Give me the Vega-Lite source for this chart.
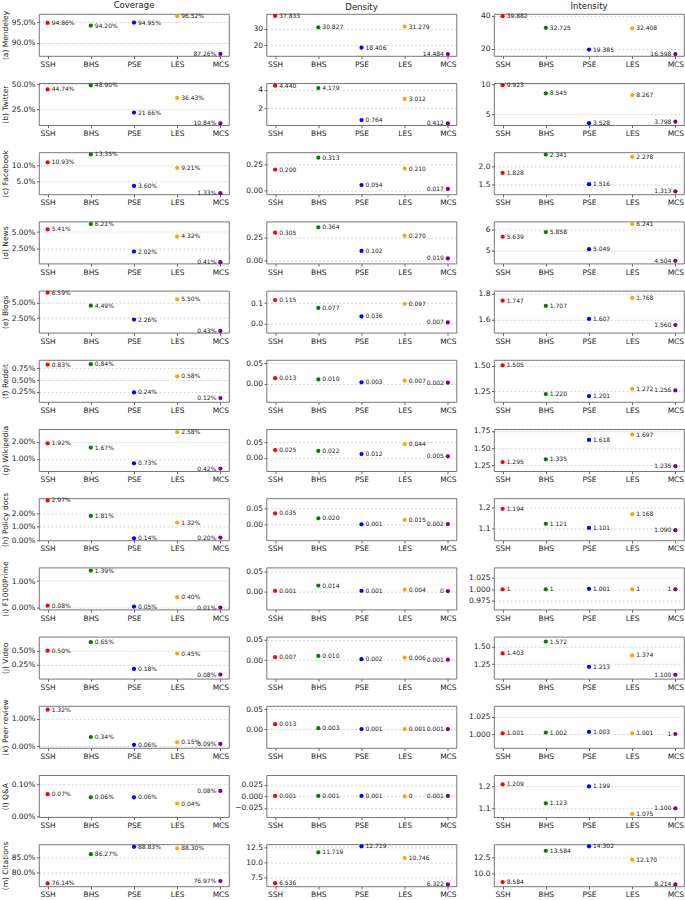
{
"$schema":"https://vega.github.io/schema/vega-lite/v6.json",
"background":"white",
"padding":{"left":0,"top":0,"right":0,"bottom":0},
"datasets":{
"aC":[{"g":"SSH","v":0.9486},{"g":"BHS","v":0.942},{"g":"PSE","v":0.9495},{"g":"LES","v":0.9652},{"g":"MCS","v":0.8726}],
"aD":[{"g":"SSH","v":37.833},{"g":"BHS","v":30.827},{"g":"PSE","v":18.406},{"g":"LES","v":31.279},{"g":"MCS","v":14.484}],
"aI":[{"g":"SSH","v":39.882},{"g":"BHS","v":32.725},{"g":"PSE","v":19.385},{"g":"LES","v":32.408},{"g":"MCS","v":16.598}],
"bC":[{"g":"SSH","v":0.4474},{"g":"BHS","v":0.489},{"g":"PSE","v":0.2166},{"g":"LES","v":0.3643},{"g":"MCS","v":0.1084}],
"bD":[{"g":"SSH","v":4.44},{"g":"BHS","v":4.179},{"g":"PSE","v":0.764},{"g":"LES","v":3.012},{"g":"MCS","v":0.412}],
"bI":[{"g":"SSH","v":9.923},{"g":"BHS","v":8.545},{"g":"PSE","v":3.528},{"g":"LES","v":8.267},{"g":"MCS","v":3.798}],
"cC":[{"g":"SSH","v":0.1093},{"g":"BHS","v":0.1335},{"g":"PSE","v":0.036},{"g":"LES","v":0.0921},{"g":"MCS","v":0.0133}],
"cD":[{"g":"SSH","v":0.2},{"g":"BHS","v":0.313},{"g":"PSE","v":0.054},{"g":"LES","v":0.21},{"g":"MCS","v":0.017}],
"cI":[{"g":"SSH","v":1.828},{"g":"BHS","v":2.341},{"g":"PSE","v":1.516},{"g":"LES","v":2.278},{"g":"MCS","v":1.313}],
"dC":[{"g":"SSH","v":0.0541},{"g":"BHS","v":0.0621},{"g":"PSE","v":0.0202},{"g":"LES","v":0.0432},{"g":"MCS","v":0.0041}],
"dD":[{"g":"SSH","v":0.305},{"g":"BHS","v":0.364},{"g":"PSE","v":0.102},{"g":"LES","v":0.27},{"g":"MCS","v":0.019}],
"dI":[{"g":"SSH","v":5.639},{"g":"BHS","v":5.858},{"g":"PSE","v":5.049},{"g":"LES","v":6.241},{"g":"MCS","v":4.504}],
"eC":[{"g":"SSH","v":0.0659},{"g":"BHS","v":0.0449},{"g":"PSE","v":0.0226},{"g":"LES","v":0.055},{"g":"MCS","v":0.0043}],
"eD":[{"g":"SSH","v":0.115},{"g":"BHS","v":0.077},{"g":"PSE","v":0.036},{"g":"LES","v":0.097},{"g":"MCS","v":0.007}],
"eI":[{"g":"SSH","v":1.747},{"g":"BHS","v":1.707},{"g":"PSE","v":1.607},{"g":"LES","v":1.768},{"g":"MCS","v":1.56}],
"fC":[{"g":"SSH","v":0.0083},{"g":"BHS","v":0.0084},{"g":"PSE","v":0.0024},{"g":"LES","v":0.0058},{"g":"MCS","v":0.0012}],
"fD":[{"g":"SSH","v":0.013},{"g":"BHS","v":0.01},{"g":"PSE","v":0.003},{"g":"LES","v":0.007},{"g":"MCS","v":0.002}],
"fI":[{"g":"SSH","v":1.505},{"g":"BHS","v":1.22},{"g":"PSE","v":1.201},{"g":"LES","v":1.272},{"g":"MCS","v":1.256}],
"gC":[{"g":"SSH","v":0.0192},{"g":"BHS","v":0.0167},{"g":"PSE","v":0.0073},{"g":"LES","v":0.0258},{"g":"MCS","v":0.0042}],
"gD":[{"g":"SSH","v":0.025},{"g":"BHS","v":0.022},{"g":"PSE","v":0.012},{"g":"LES","v":0.044},{"g":"MCS","v":0.005}],
"gI":[{"g":"SSH","v":1.295},{"g":"BHS","v":1.335},{"g":"PSE","v":1.618},{"g":"LES","v":1.697},{"g":"MCS","v":1.235}],
"hC":[{"g":"SSH","v":0.0297},{"g":"BHS","v":0.0181},{"g":"PSE","v":0.0014},{"g":"LES","v":0.0132},{"g":"MCS","v":0.002}],
"hD":[{"g":"SSH","v":0.035},{"g":"BHS","v":0.02},{"g":"PSE","v":0.001},{"g":"LES","v":0.015},{"g":"MCS","v":0.002}],
"hI":[{"g":"SSH","v":1.194},{"g":"BHS","v":1.121},{"g":"PSE","v":1.101},{"g":"LES","v":1.168},{"g":"MCS","v":1.09}],
"iC":[{"g":"SSH","v":0.0008},{"g":"BHS","v":0.0139},{"g":"PSE","v":0.0005},{"g":"LES","v":0.004},{"g":"MCS","v":0.0001}],
"iD":[{"g":"SSH","v":0.001},{"g":"BHS","v":0.014},{"g":"PSE","v":0.001},{"g":"LES","v":0.004},{"g":"MCS","v":0}],
"iI":[{"g":"SSH","v":1},{"g":"BHS","v":1},{"g":"PSE","v":1.001},{"g":"LES","v":1},{"g":"MCS","v":1}],
"jC":[{"g":"SSH","v":0.005},{"g":"BHS","v":0.0065},{"g":"PSE","v":0.0018},{"g":"LES","v":0.0045},{"g":"MCS","v":0.0008}],
"jD":[{"g":"SSH","v":0.007},{"g":"BHS","v":0.01},{"g":"PSE","v":0.002},{"g":"LES","v":0.006},{"g":"MCS","v":0.001}],
"jI":[{"g":"SSH","v":1.403},{"g":"BHS","v":1.572},{"g":"PSE","v":1.213},{"g":"LES","v":1.374},{"g":"MCS","v":1.1}],
"kC":[{"g":"SSH","v":0.0132},{"g":"BHS","v":0.0034},{"g":"PSE","v":0.0006},{"g":"LES","v":0.0015},{"g":"MCS","v":0.0009}],
"kD":[{"g":"SSH","v":0.013},{"g":"BHS","v":0.003},{"g":"PSE","v":0.001},{"g":"LES","v":0.001},{"g":"MCS","v":0.001}],
"kI":[{"g":"SSH","v":1.001},{"g":"BHS","v":1.002},{"g":"PSE","v":1.003},{"g":"LES","v":1.001},{"g":"MCS","v":1}],
"lC":[{"g":"SSH","v":0.0007},{"g":"BHS","v":0.0006},{"g":"PSE","v":0.0006},{"g":"LES","v":0.0004},{"g":"MCS","v":0.0008}],
"lD":[{"g":"SSH","v":0.001},{"g":"BHS","v":0.001},{"g":"PSE","v":0.001},{"g":"LES","v":0},{"g":"MCS","v":0.001}],
"lI":[{"g":"SSH","v":1.209},{"g":"BHS","v":1.123},{"g":"PSE","v":1.199},{"g":"LES","v":1.075},{"g":"MCS","v":1.1}],
"mC":[{"g":"SSH","v":0.7614},{"g":"BHS","v":0.8627},{"g":"PSE","v":0.8883},{"g":"LES","v":0.883},{"g":"MCS","v":0.7697}],
"mD":[{"g":"SSH","v":6.536},{"g":"BHS","v":11.719},{"g":"PSE","v":12.719},{"g":"LES","v":10.746},{"g":"MCS","v":6.322}],
"mI":[{"g":"SSH","v":8.584},{"g":"BHS","v":13.584},{"g":"PSE","v":14.302},{"g":"LES","v":12.17},{"g":"MCS","v":8.214}]
},
"columns":3,
"spacing":{"row":27.2,"column":37.5},
"bounds":"flush",
"concat":[
{"data":{"name":"aC"},"width":190,"height":42,"title":"Coverage","encoding":{"x":{"field":"g","sort":null,"title":null},"y":{"field":"v","type":"quantitative","title":"(a) Mendeley","scale":{"domain":[0.8675,0.9705]},"axis":{"values":[0.9,0.95],"format":".1%"}}},"layer":[{"mark":"point","encoding":{"color":{"field":"g","legend":null}}},{"mark":{"type":"text","align":{"expr":"datum.g=='MCS'?'right':'left'"},"dx":{"expr":"datum.g=='MCS'?-4:4"}},"encoding":{"text":{"field":"v","type":"quantitative","format":".2%"}}}]},
{"data":{"name":"aD"},"width":190,"height":42,"title":"Density","encoding":{"x":{"field":"g","sort":null,"title":null},"y":{"field":"v","type":"quantitative","title":null,"scale":{"domain":[13.3,39.0]},"axis":{"values":[20,30],"format":"d"}}},"layer":[{"mark":"point","encoding":{"color":{"field":"g","legend":null}}},{"mark":{"type":"text","align":{"expr":"datum.g=='MCS'?'right':'left'"},"dx":{"expr":"datum.g=='MCS'?-4:4"}},"encoding":{"text":{"field":"v","type":"quantitative","format":".3f"}}}]},
{"data":{"name":"aI"},"width":190,"height":42,"title":"Intensity","encoding":{"x":{"field":"g","sort":null,"title":null},"y":{"field":"v","type":"quantitative","title":null,"scale":{"domain":[15.4,41.2]},"axis":{"values":[20,40],"format":"d"}}},"layer":[{"mark":"point","encoding":{"color":{"field":"g","legend":null}}},{"mark":{"type":"text","align":{"expr":"datum.g=='MCS'?'right':'left'"},"dx":{"expr":"datum.g=='MCS'?-4:4"}},"encoding":{"text":{"field":"v","type":"quantitative","format":".3f"}}}]},

{"data":{"name":"bC"},"width":190,"height":42,"encoding":{"x":{"field":"g","sort":null,"title":null},"y":{"field":"v","type":"quantitative","title":"(b) Twitter","scale":{"domain":[0.09,0.51]},"axis":{"values":[0.25,0.5],"format":".1%"}}},"layer":[{"mark":"point","encoding":{"color":{"field":"g","legend":null}}},{"mark":{"type":"text","align":{"expr":"datum.g=='MCS'?'right':'left'"},"dx":{"expr":"datum.g=='MCS'?-4:4"}},"encoding":{"text":{"field":"v","type":"quantitative","format":".2%"}}}]},
{"data":{"name":"bD"},"width":190,"height":42,"encoding":{"x":{"field":"g","sort":null,"title":null},"y":{"field":"v","type":"quantitative","title":null,"scale":{"domain":[0.21,4.7]},"axis":{"values":[2,4],"format":"d"}}},"layer":[{"mark":"point","encoding":{"color":{"field":"g","legend":null}}},{"mark":{"type":"text","align":{"expr":"datum.g=='MCS'?'right':'left'"},"dx":{"expr":"datum.g=='MCS'?-4:4"}},"encoding":{"text":{"field":"v","type":"quantitative","format":".3f"}}}]},
{"data":{"name":"bI"},"width":190,"height":42,"encoding":{"x":{"field":"g","sort":null,"title":null},"y":{"field":"v","type":"quantitative","title":null,"scale":{"domain":[3.2,10.25]},"axis":{"values":[5,10],"format":"d"}}},"layer":[{"mark":"point","encoding":{"color":{"field":"g","legend":null}}},{"mark":{"type":"text","align":{"expr":"datum.g=='MCS'?'right':'left'"},"dx":{"expr":"datum.g=='MCS'?-4:4"}},"encoding":{"text":{"field":"v","type":"quantitative","format":".3f"}}}]},

{"data":{"name":"cC"},"width":190,"height":42,"encoding":{"x":{"field":"g","sort":null,"title":null},"y":{"field":"v","type":"quantitative","title":"(c) Facebook","scale":{"domain":[0.0096,0.14]},"axis":{"values":[0.05,0.1],"format":".1%"}}},"layer":[{"mark":"point","encoding":{"color":{"field":"g","legend":null}}},{"mark":{"type":"text","align":{"expr":"datum.g=='MCS'?'right':'left'"},"dx":{"expr":"datum.g=='MCS'?-4:4"}},"encoding":{"text":{"field":"v","type":"quantitative","format":".2%"}}}]},
{"data":{"name":"cD"},"width":190,"height":42,"encoding":{"x":{"field":"g","sort":null,"title":null},"y":{"field":"v","type":"quantitative","title":null,"scale":{"domain":[-0.035,0.363]},"axis":{"values":[0,0.25],"format":".2f"}}},"layer":[{"mark":"point","encoding":{"color":{"field":"g","legend":null}}},{"mark":{"type":"text","align":{"expr":"datum.g=='MCS'?'right':'left'"},"dx":{"expr":"datum.g=='MCS'?-4:4"}},"encoding":{"text":{"field":"v","type":"quantitative","format":".3f"}}}]},
{"data":{"name":"cI"},"width":190,"height":42,"encoding":{"x":{"field":"g","sort":null,"title":null},"y":{"field":"v","type":"quantitative","title":null,"scale":{"domain":[1.23,2.4]},"axis":{"values":[1.5,2.0],"format":".1f"}}},"layer":[{"mark":"point","encoding":{"color":{"field":"g","legend":null}}},{"mark":{"type":"text","align":{"expr":"datum.g=='MCS'?'right':'left'"},"dx":{"expr":"datum.g=='MCS'?-4:4"}},"encoding":{"text":{"field":"v","type":"quantitative","format":".3f"}}}]},

{"data":{"name":"dC"},"width":190,"height":42,"encoding":{"x":{"field":"g","sort":null,"title":null},"y":{"field":"v","type":"quantitative","title":"(d) News","scale":{"domain":[0.002,0.0658]},"axis":{"values":[0.025,0.05],"format":".2%"}}},"layer":[{"mark":"point","encoding":{"color":{"field":"g","legend":null}}},{"mark":{"type":"text","align":{"expr":"datum.g=='MCS'?'right':'left'"},"dx":{"expr":"datum.g=='MCS'?-4:4"}},"encoding":{"text":{"field":"v","type":"quantitative","format":".2%"}}}]},
{"data":{"name":"dD"},"width":190,"height":42,"encoding":{"x":{"field":"g","sort":null,"title":null},"y":{"field":"v","type":"quantitative","title":null,"scale":{"domain":[-0.038,0.428]},"axis":{"values":[0,0.25],"format":".2f"}}},"layer":[{"mark":"point","encoding":{"color":{"field":"g","legend":null}}},{"mark":{"type":"text","align":{"expr":"datum.g=='MCS'?'right':'left'"},"dx":{"expr":"datum.g=='MCS'?-4:4"}},"encoding":{"text":{"field":"v","type":"quantitative","format":".3f"}}}]},
{"data":{"name":"dI"},"width":190,"height":42,"encoding":{"x":{"field":"g","sort":null,"title":null},"y":{"field":"v","type":"quantitative","title":null,"scale":{"domain":[4.37,6.355]},"axis":{"values":[5,6],"format":"d"}}},"layer":[{"mark":"point","encoding":{"color":{"field":"g","legend":null}}},{"mark":{"type":"text","align":{"expr":"datum.g=='MCS'?'right':'left'"},"dx":{"expr":"datum.g=='MCS'?-4:4"}},"encoding":{"text":{"field":"v","type":"quantitative","format":".3f"}}}]},

{"data":{"name":"eC"},"width":190,"height":42,"encoding":{"x":{"field":"g","sort":null,"title":null},"y":{"field":"v","type":"quantitative","title":"(e) Blogs","scale":{"domain":[0.0012,0.069]},"axis":{"values":[0.025,0.05],"format":".2%"}}},"layer":[{"mark":"point","encoding":{"color":{"field":"g","legend":null}}},{"mark":{"type":"text","align":{"expr":"datum.g=='MCS'?'right':'left'"},"dx":{"expr":"datum.g=='MCS'?-4:4"}},"encoding":{"text":{"field":"v","type":"quantitative","format":".2%"}}}]},
{"data":{"name":"eD"},"width":190,"height":42,"encoding":{"x":{"field":"g","sort":null,"title":null},"y":{"field":"v","type":"quantitative","title":null,"scale":{"domain":[-0.043,0.16]},"axis":{"values":[0,0.1],"format":".1f"}}},"layer":[{"mark":"point","encoding":{"color":{"field":"g","legend":null}}},{"mark":{"type":"text","align":{"expr":"datum.g=='MCS'?'right':'left'"},"dx":{"expr":"datum.g=='MCS'?-4:4"}},"encoding":{"text":{"field":"v","type":"quantitative","format":".3f"}}}]},
{"data":{"name":"eI"},"width":190,"height":42,"encoding":{"x":{"field":"g","sort":null,"title":null},"y":{"field":"v","type":"quantitative","title":null,"scale":{"domain":[1.5,1.823]},"axis":{"values":[1.6,1.8],"format":".1f"}}},"layer":[{"mark":"point","encoding":{"color":{"field":"g","legend":null}}},{"mark":{"type":"text","align":{"expr":"datum.g=='MCS'?'right':'left'"},"dx":{"expr":"datum.g=='MCS'?-4:4"}},"encoding":{"text":{"field":"v","type":"quantitative","format":".3f"}}}]},

{"data":{"name":"fC"},"width":190,"height":42,"encoding":{"x":{"field":"g","sort":null,"title":null},"y":{"field":"v","type":"quantitative","title":"(f) Reddit","scale":{"domain":[0.00036,0.00929]},"axis":{"values":[0.0025,0.005,0.0075],"format":".2%"}}},"layer":[{"mark":"point","encoding":{"color":{"field":"g","legend":null}}},{"mark":{"type":"text","align":{"expr":"datum.g=='MCS'?'right':'left'"},"dx":{"expr":"datum.g=='MCS'?-4:4"}},"encoding":{"text":{"field":"v","type":"quantitative","format":".2%"}}}]},
{"data":{"name":"fD"},"width":190,"height":42,"encoding":{"x":{"field":"g","sort":null,"title":null},"y":{"field":"v","type":"quantitative","title":null,"scale":{"domain":[-0.045,0.0575]},"axis":{"values":[0,0.05],"format":".2f"}}},"layer":[{"mark":"point","encoding":{"color":{"field":"g","legend":null}}},{"mark":{"type":"text","align":{"expr":"datum.g=='MCS'?'right':'left'"},"dx":{"expr":"datum.g=='MCS'?-4:4"}},"encoding":{"text":{"field":"v","type":"quantitative","format":".3f"}}}]},
{"data":{"name":"fI"},"width":190,"height":42,"encoding":{"x":{"field":"g","sort":null,"title":null},"y":{"field":"v","type":"quantitative","title":null,"scale":{"domain":[1.142,1.557]},"axis":{"values":[1.25,1.5],"format":".2f"}}},"layer":[{"mark":"point","encoding":{"color":{"field":"g","legend":null}}},{"mark":{"type":"text","align":{"expr":"datum.g=='MCS'?'right':'left'"},"dx":{"expr":"datum.g=='MCS'?-4:4"}},"encoding":{"text":{"field":"v","type":"quantitative","format":".3f"}}}]},

{"data":{"name":"gC"},"width":190,"height":42,"encoding":{"x":{"field":"g","sort":null,"title":null},"y":{"field":"v","type":"quantitative","title":"(g) Wikipedia","scale":{"domain":[0.0026,0.0276]},"axis":{"values":[0.01,0.02],"format":".2%"}}},"layer":[{"mark":"point","encoding":{"color":{"field":"g","legend":null}}},{"mark":{"type":"text","align":{"expr":"datum.g=='MCS'?'right':'left'"},"dx":{"expr":"datum.g=='MCS'?-4:4"}},"encoding":{"text":{"field":"v","type":"quantitative","format":".2%"}}}]},
{"data":{"name":"gD"},"width":190,"height":42,"encoding":{"x":{"field":"g","sort":null,"title":null},"y":{"field":"v","type":"quantitative","title":null,"scale":{"domain":[-0.043,0.092]},"axis":{"values":[0,0.05],"format":".2f"}}},"layer":[{"mark":"point","encoding":{"color":{"field":"g","legend":null}}},{"mark":{"type":"text","align":{"expr":"datum.g=='MCS'?'right':'left'"},"dx":{"expr":"datum.g=='MCS'?-4:4"}},"encoding":{"text":{"field":"v","type":"quantitative","format":".3f"}}}]},
{"data":{"name":"gI"},"width":190,"height":42,"encoding":{"x":{"field":"g","sort":null,"title":null},"y":{"field":"v","type":"quantitative","title":null,"scale":{"domain":[1.162,1.775]},"axis":{"values":[1.25,1.5,1.75],"format":".2f"}}},"layer":[{"mark":"point","encoding":{"color":{"field":"g","legend":null}}},{"mark":{"type":"text","align":{"expr":"datum.g=='MCS'?'right':'left'"},"dx":{"expr":"datum.g=='MCS'?-4:4"}},"encoding":{"text":{"field":"v","type":"quantitative","format":".3f"}}}]},

{"data":{"name":"hC"},"width":190,"height":42,"encoding":{"x":{"field":"g","sort":null,"title":null},"y":{"field":"v","type":"quantitative","title":"(h) Policy docs","scale":{"domain":[-0.00015,0.0312]},"axis":{"values":[0,0.01,0.02],"format":".2%"}}},"layer":[{"mark":"point","encoding":{"color":{"field":"g","legend":null}}},{"mark":{"type":"text","align":{"expr":"datum.g=='MCS'?'right':'left'"},"dx":{"expr":"datum.g=='MCS'?-4:4"}},"encoding":{"text":{"field":"v","type":"quantitative","format":".2%"}}}]},
{"data":{"name":"hD"},"width":190,"height":42,"encoding":{"x":{"field":"g","sort":null,"title":null},"y":{"field":"v","type":"quantitative","title":null,"scale":{"domain":[-0.049,0.082]},"axis":{"values":[0,0.05],"format":".2f"}}},"layer":[{"mark":"point","encoding":{"color":{"field":"g","legend":null}}},{"mark":{"type":"text","align":{"expr":"datum.g=='MCS'?'right':'left'"},"dx":{"expr":"datum.g=='MCS'?-4:4"}},"encoding":{"text":{"field":"v","type":"quantitative","format":".3f"}}}]},
{"data":{"name":"hI"},"width":190,"height":42,"encoding":{"x":{"field":"g","sort":null,"title":null},"y":{"field":"v","type":"quantitative","title":null,"scale":{"domain":[1.04,1.245]},"axis":{"values":[1.1,1.2],"format":".1f"}}},"layer":[{"mark":"point","encoding":{"color":{"field":"g","legend":null}}},{"mark":{"type":"text","align":{"expr":"datum.g=='MCS'?'right':'left'"},"dx":{"expr":"datum.g=='MCS'?-4:4"}},"encoding":{"text":{"field":"v","type":"quantitative","format":".3f"}}}]},

{"data":{"name":"iC"},"width":190,"height":42,"encoding":{"x":{"field":"g","sort":null,"title":null},"y":{"field":"v","type":"quantitative","title":"(i) F1000Prime","scale":{"domain":[-0.00064,0.015]},"axis":{"values":[0,0.01],"format":".2%"}}},"layer":[{"mark":"point","encoding":{"color":{"field":"g","legend":null}}},{"mark":{"type":"text","align":{"expr":"datum.g=='MCS'?'right':'left'"},"dx":{"expr":"datum.g=='MCS'?-4:4"}},"encoding":{"text":{"field":"v","type":"quantitative","format":".2%"}}}]},
{"data":{"name":"iD"},"width":190,"height":42,"encoding":{"x":{"field":"g","sort":null,"title":null},"y":{"field":"v","type":"quantitative","title":null,"scale":{"domain":[-0.046,0.059]},"axis":{"values":[0,0.05],"format":".2f"}}},"layer":[{"mark":"point","encoding":{"color":{"field":"g","legend":null}}},{"mark":{"type":"text","align":{"expr":"datum.g=='MCS'?'right':'left'"},"dx":{"expr":"datum.g=='MCS'?-4:4"}},"encoding":{"text":{"field":"v","type":"quantitative","format":".3~f"}}}]},
{"data":{"name":"iI"},"width":190,"height":42,"encoding":{"x":{"field":"g","sort":null,"title":null},"y":{"field":"v","type":"quantitative","title":null,"scale":{"domain":[0.955,1.048]},"axis":{"values":[0.975,1,1.025],"format":".3f"}}},"layer":[{"mark":"point","encoding":{"color":{"field":"g","legend":null}}},{"mark":{"type":"text","align":{"expr":"datum.g=='MCS'?'right':'left'"},"dx":{"expr":"datum.g=='MCS'?-4:4"}},"encoding":{"text":{"field":"v","type":"quantitative","format":".3~f"}}}]},

{"data":{"name":"jC"},"width":190,"height":42,"encoding":{"x":{"field":"g","sort":null,"title":null},"y":{"field":"v","type":"quantitative","title":"(j) Video","scale":{"domain":[0.00006,0.00744]},"axis":{"values":[0.0025,0.005],"format":".2%"}}},"layer":[{"mark":"point","encoding":{"color":{"field":"g","legend":null}}},{"mark":{"type":"text","align":{"expr":"datum.g=='MCS'?'right':'left'"},"dx":{"expr":"datum.g=='MCS'?-4:4"}},"encoding":{"text":{"field":"v","type":"quantitative","format":".2%"}}}]},
{"data":{"name":"jD"},"width":190,"height":42,"encoding":{"x":{"field":"g","sort":null,"title":null},"y":{"field":"v","type":"quantitative","title":null,"scale":{"domain":[-0.046,0.057]},"axis":{"values":[0,0.05],"format":".2f"}}},"layer":[{"mark":"point","encoding":{"color":{"field":"g","legend":null}}},{"mark":{"type":"text","align":{"expr":"datum.g=='MCS'?'right':'left'"},"dx":{"expr":"datum.g=='MCS'?-4:4"}},"encoding":{"text":{"field":"v","type":"quantitative","format":".3f"}}}]},
{"data":{"name":"jI"},"width":190,"height":42,"encoding":{"x":{"field":"g","sort":null,"title":null},"y":{"field":"v","type":"quantitative","title":null,"scale":{"domain":[1.043,1.639]},"axis":{"values":[1.25,1.5],"format":".2f"}}},"layer":[{"mark":"point","encoding":{"color":{"field":"g","legend":null}}},{"mark":{"type":"text","align":{"expr":"datum.g=='MCS'?'right':'left'"},"dx":{"expr":"datum.g=='MCS'?-4:4"}},"encoding":{"text":{"field":"v","type":"quantitative","format":".3f"}}}]},

{"data":{"name":"kC"},"width":190,"height":42,"encoding":{"x":{"field":"g","sort":null,"title":null},"y":{"field":"v","type":"quantitative","title":"(k) Peer review","scale":{"domain":[-0.00054,0.0145]},"axis":{"values":[0,0.01],"format":".2%"}}},"layer":[{"mark":"point","encoding":{"color":{"field":"g","legend":null}}},{"mark":{"type":"text","align":{"expr":"datum.g=='MCS'?'right':'left'"},"dx":{"expr":"datum.g=='MCS'?-4:4"}},"encoding":{"text":{"field":"v","type":"quantitative","format":".2%"}}}]},
{"data":{"name":"kD"},"width":190,"height":42,"encoding":{"x":{"field":"g","sort":null,"title":null},"y":{"field":"v","type":"quantitative","title":null,"scale":{"domain":[-0.046,0.058]},"axis":{"values":[0,0.05],"format":".2f"}}},"layer":[{"mark":"point","encoding":{"color":{"field":"g","legend":null}}},{"mark":{"type":"text","align":{"expr":"datum.g=='MCS'?'right':'left'"},"dx":{"expr":"datum.g=='MCS'?-4:4"}},"encoding":{"text":{"field":"v","type":"quantitative","format":".3~f"}}}]},
{"data":{"name":"kI"},"width":190,"height":42,"encoding":{"x":{"field":"g","sort":null,"title":null},"y":{"field":"v","type":"quantitative","title":null,"scale":{"domain":[0.98,1.04]},"axis":{"values":[1,1.025],"format":".3f"}}},"layer":[{"mark":"point","encoding":{"color":{"field":"g","legend":null}}},{"mark":{"type":"text","align":{"expr":"datum.g=='MCS'?'right':'left'"},"dx":{"expr":"datum.g=='MCS'?-4:4"}},"encoding":{"text":{"field":"v","type":"quantitative","format":".3~f"}}}]},

{"data":{"name":"lC"},"width":190,"height":42,"encoding":{"x":{"field":"g","sort":null,"title":null},"y":{"field":"v","type":"quantitative","title":"(l) Q&A","scale":{"domain":[-0.00003,0.0013]},"axis":{"values":[0,0.001],"format":".2%"}}},"layer":[{"mark":"point","encoding":{"color":{"field":"g","legend":null}}},{"mark":{"type":"text","align":{"expr":"datum.g=='MCS'?'right':'left'"},"dx":{"expr":"datum.g=='MCS'?-4:4"}},"encoding":{"text":{"field":"v","type":"quantitative","format":".2%"}}}]},
{"data":{"name":"lD"},"width":190,"height":42,"encoding":{"x":{"field":"g","sort":null,"title":null},"y":{"field":"v","type":"quantitative","title":null,"scale":{"domain":[-0.045,0.046]},"axis":{"values":[-0.025,0,0.025],"format":".3f"}}},"layer":[{"mark":"point","encoding":{"color":{"field":"g","legend":null}}},{"mark":{"type":"text","align":{"expr":"datum.g=='MCS'?'right':'left'"},"dx":{"expr":"datum.g=='MCS'?-4:4"}},"encoding":{"text":{"field":"v","type":"quantitative","format":".3~f"}}}]},
{"data":{"name":"lI"},"width":190,"height":42,"encoding":{"x":{"field":"g","sort":null,"title":null},"y":{"field":"v","type":"quantitative","title":null,"scale":{"domain":[1.06,1.25]},"axis":{"values":[1.1,1.2],"format":".1f"}}},"layer":[{"mark":"point","encoding":{"color":{"field":"g","legend":null}}},{"mark":{"type":"text","align":{"expr":"datum.g=='MCS'?'right':'left'"},"dx":{"expr":"datum.g=='MCS'?-4:4"}},"encoding":{"text":{"field":"v","type":"quantitative","format":".3f"}}}]},

{"data":{"name":"mC"},"width":190,"height":42,"encoding":{"x":{"field":"g","sort":null,"title":null},"y":{"field":"v","type":"quantitative","title":"(m) Citations","scale":{"domain":[0.751,0.8965]},"axis":{"values":[0.8,0.85],"format":".1%"}}},"layer":[{"mark":"point","encoding":{"color":{"field":"g","legend":null}}},{"mark":{"type":"text","align":{"expr":"datum.g=='MCS'?'right':'left'"},"dx":{"expr":"datum.g=='MCS'?-4:4"}},"encoding":{"text":{"field":"v","type":"quantitative","format":".2%"}}}]},
{"data":{"name":"mD"},"width":190,"height":42,"encoding":{"x":{"field":"g","sort":null,"title":null},"y":{"field":"v","type":"quantitative","title":null,"scale":{"domain":[6.0,13.04]},"axis":{"values":[7.5,10,12.5],"format":".1f"}}},"layer":[{"mark":"point","encoding":{"color":{"field":"g","legend":null}}},{"mark":{"type":"text","align":{"expr":"datum.g=='MCS'?'right':'left'"},"dx":{"expr":"datum.g=='MCS'?-4:4"}},"encoding":{"text":{"field":"v","type":"quantitative","format":".3f"}}}]},
{"data":{"name":"mI"},"width":190,"height":42,"encoding":{"x":{"field":"g","sort":null,"title":null},"y":{"field":"v","type":"quantitative","title":null,"scale":{"domain":[7.9,14.6]},"axis":{"values":[10,12.5],"format":".1f"}}},"layer":[{"mark":"point","encoding":{"color":{"field":"g","legend":null}}},{"mark":{"type":"text","align":{"expr":"datum.g=='MCS'?'right':'left'"},"dx":{"expr":"datum.g=='MCS'?-4:4"}},"encoding":{"text":{"field":"v","type":"quantitative","format":".3f"}}}]}
],
"config":{
"font":"DejaVu Sans",
"view":{"stroke":"#555","strokeWidth":0.8},
"axis":{"labelFontSize":7.5,"labelColor":"#222","tickColor":"#444","tickSize":2.5,"tickWidth":0.8,"domain":false,"titleFontSize":7.5,"titleFontWeight":"normal","titleColor":"#222","labelPadding":1.5},
"axisX":{"grid":false,"labelAngle":0,"labelPadding":2},
"axisY":{"gridDash":[2,2],"gridColor":"#bbb","gridWidth":0.6,"titlePadding":2},
"point":{"filled":true,"size":18,"opacity":1},
"text":{"fontSize":6,"color":"#222","baseline":"middle"},
"title":{"fontSize":8.5,"fontWeight":"normal","color":"#222","offset":1,"anchor":"middle"},
"scale":{"pointPadding":0.2},
"range":{"category":["#008000","#FFA500","#800080","#0000FF","#FF0000"]}
}
}
